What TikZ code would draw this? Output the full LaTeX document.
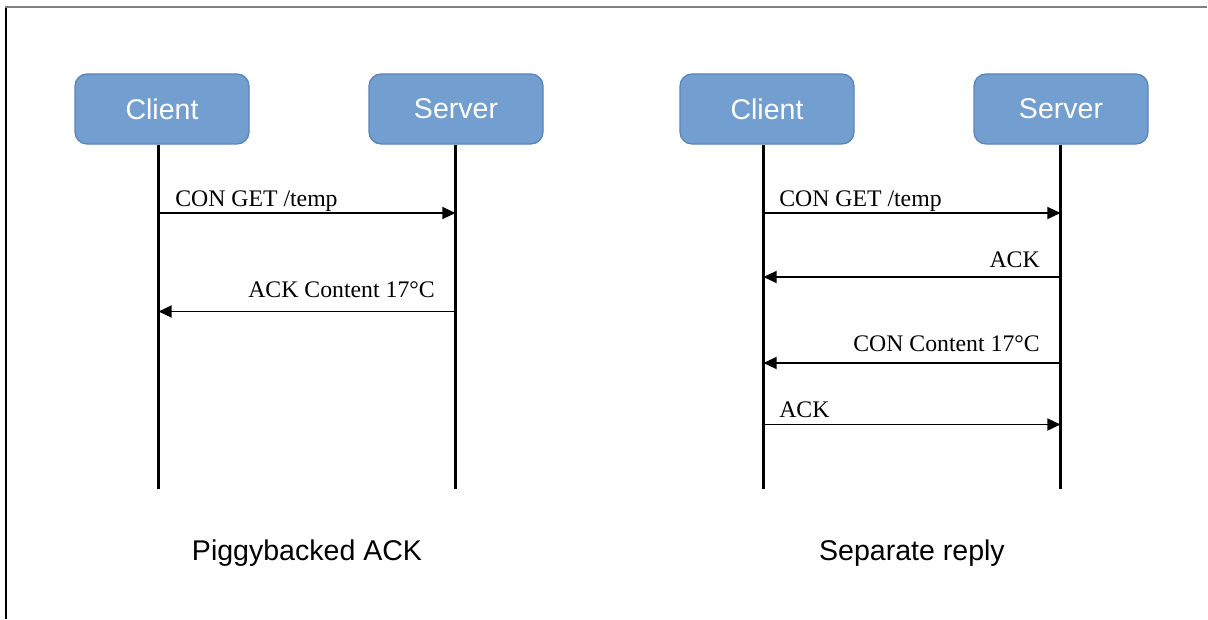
\documentclass[tikz,border=0pt]{standalone}
\usepackage{fontspec}
\setmainfont{Liberation Serif}
\setsansfont{Liberation Sans}
\usetikzlibrary{arrows.meta}
\definecolor{boxfill}{RGB}{114,159,207}
\definecolor{boxline}{RGB}{88,132,186}
\begin{document}
\begin{tikzpicture}[
		party/.style={draw=boxline, line width=0.9pt, fill=boxfill, rounded corners=0.3cm,
			minimum width=4.35cm, minimum height=1.75cm, text=white,
			font=\sffamily\fontsize{20.3}{24}\selectfont},
		life/.style={line width=2pt},
		msg/.style={line width=1.3pt, -{Triangle[length=0.33cm,width=0.3cm]}},
		lbl/.style={font=\fontsize{16.9}{20}\selectfont, inner sep=0pt},
		caption/.style={font=\sffamily\fontsize{20.3}{24}\selectfont}]
		\useasboundingbox (0,0) rectangle (30.2,-15.475);
		% frame
		\draw[gray, line width=1.4pt] (0.125,-0.175) -- (30.175,-0.175);
		\draw[line width=1pt] (0.15,-0.2) -- (0.15,-15.475);
		% piggybacked
		\node[party] (cL) at (4.05,-2.725) {Client};
		\node[party] (sL) at (11.4,-2.725) {Server};
		\coordinate (cLend) at (3.9625,-12.225);
		\coordinate (sLend) at (11.3875,-12.225);
		\draw[life] (cL.south -| cLend) -- (cLend);
		\draw[life] (sL.south -| sLend) -- (sLend);
		\coordinate (yL1) at (0,-5.325);
		\coordinate (yL2) at (0,-7.7875);
		\draw[msg] (cLend |- yL1) -- (sLend |- yL1);
		\draw[msg] (sLend |- yL2) -- (cLend |- yL2);
		\node[lbl, anchor=base west] (mL1) at (4.375,-5.15) {CON GET /temp};
		\node[lbl, anchor=base east] (mL2) at (10.875,-7.425) {ACK Content 17°C};
		\node[caption] (capL) at (7.675,-13.825) {Piggybacked ACK};
		% separate
		\node[party] (cR) at (19.175,-2.725) {Client};
		\node[party] (sR) at (26.525,-2.725) {Server};
		\coordinate (cRend) at (19.0875,-12.225);
		\coordinate (sRend) at (26.5125,-12.225);
		\draw[life] (cR.south -| cRend) -- (cRend);
		\draw[life] (sR.south -| sRend) -- (sRend);
		\coordinate (yR1) at (0,-5.325);
		\coordinate (yR2) at (0,-6.925);
		\coordinate (yR3) at (0,-9.075);
		\coordinate (yR4) at (0,-10.6125);
		\draw[msg] (cRend |- yR1) -- (sRend |- yR1);
		\draw[msg] (sRend |- yR2) -- (cRend |- yR2);
		\draw[msg] (sRend |- yR3) -- (cRend |- yR3);
		\draw[msg] (cRend |- yR4) -- (sRend |- yR4);
		\node[lbl, anchor=base west] (mR1) at (19.475,-5.15) {CON GET /temp};
		\node[lbl, anchor=base east] (mR2) at (26.0,-6.68) {ACK};
		\node[lbl, anchor=base east] (mR3) at (26.0,-8.79) {CON Content 17°C};
		\node[lbl, anchor=base west] (mR4) at (19.475,-10.43) {ACK};
		\node[caption] (capR) at (22.8,-13.825) {Separate reply};
	\end{tikzpicture}
\end{document}
